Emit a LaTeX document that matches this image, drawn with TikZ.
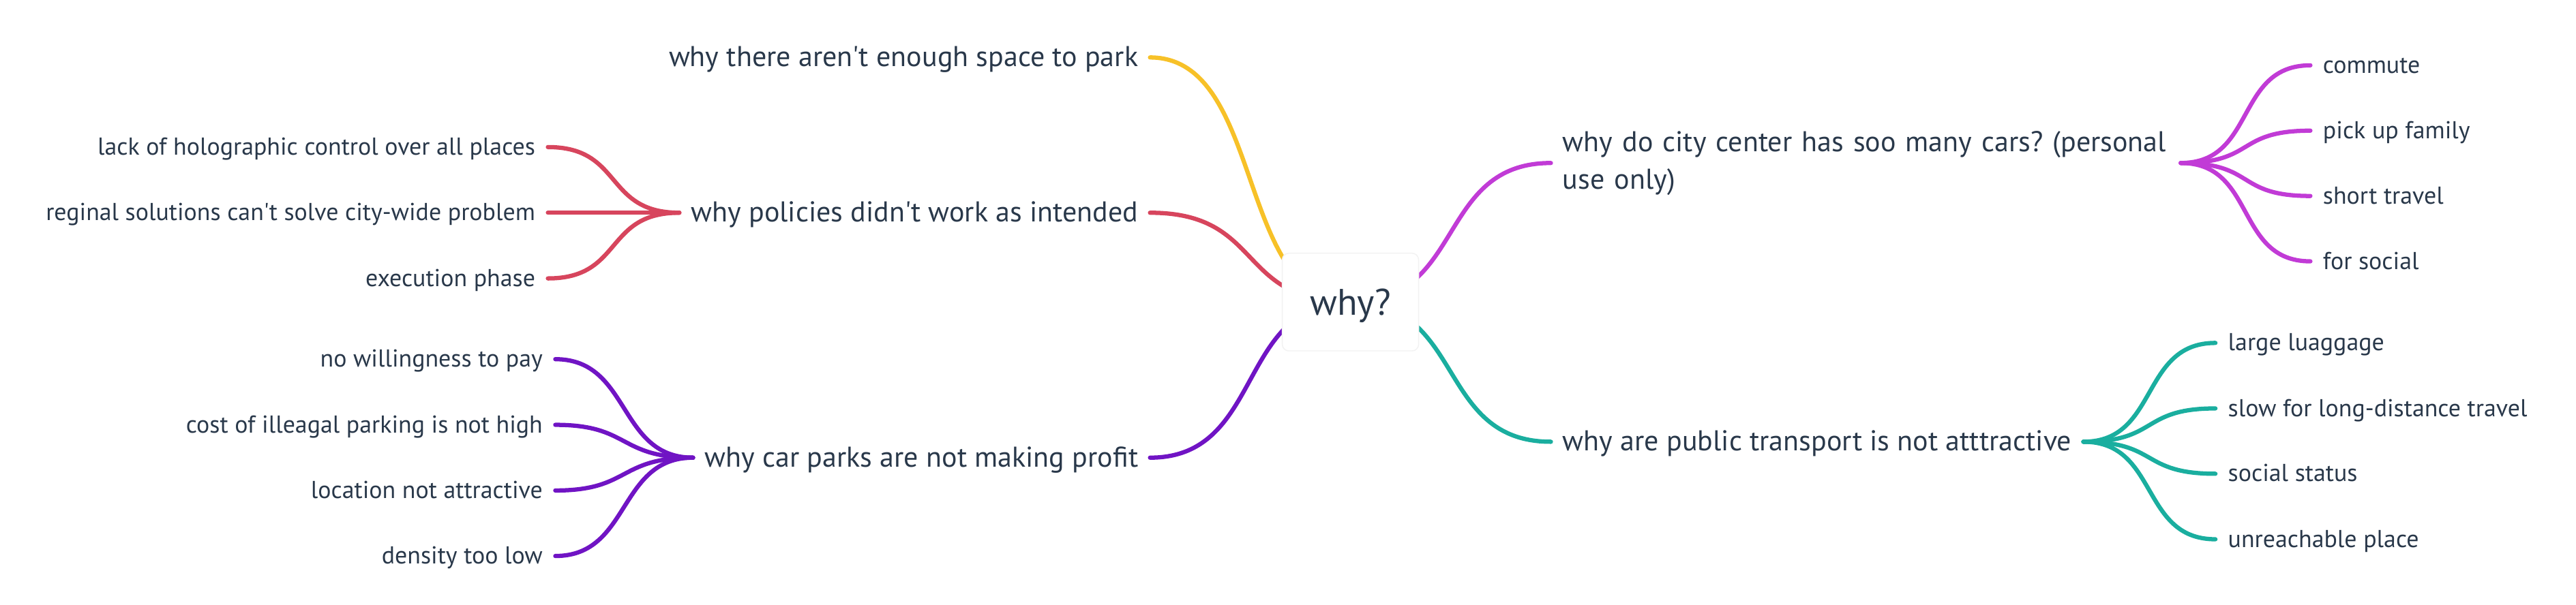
\documentclass[tikz,border=0pt]{standalone}
\usepackage{fontspec}
\setmainfont{PT Sans}[Ligatures=TeXOff]
\usetikzlibrary{backgrounds}
\definecolor{ink}{HTML}{29384A}
\definecolor{sunny}{HTML}{F7C128}
\definecolor{rosy}{HTML}{D7455D}
\definecolor{grape}{HTML}{7014C4}
\definecolor{orchid}{HTML}{C13BD6}
\definecolor{sea}{HTML}{1AAE9F}

\begin{document}
\begin{tikzpicture}[x=1pt, y=-1pt,
    root/.style ={rounded corners=4pt, fill=white, draw=black!5, line width=0.6pt, minimum width=83pt, minimum height=59.5pt, text=ink, text height=16pt, text depth=0pt, font=\fontsize{22.5}{26}\selectfont},
    branch/.style ={text=ink, inner xsep=7pt, inner ysep=1pt, font=\fontsize{17.45}{22.8}\selectfont\frenchspacing},
    branchline/.style ={branch, text height=13pt, text depth=2pt},
    leaf/.style ={text=ink, inner xsep=7.5pt, inner ysep=1pt, text height=11pt, text depth=1.4pt, font=\fontsize{14.9}{18}\selectfont},
    link/.style ={line width=2.6pt, line cap=round}]
   \useasboundingbox (0,0) rectangle (1568,368.55);

   \node[root] (why) at (822,184) {why?};

   \node[branchline, anchor=east] (park) at (700,35) {why there aren't enough space to park};
   \node[branchline, anchor=east] (policy) at (700,129.6) {why policies didn't work as intended};
   \node[branchline, anchor=east] (profit) at (700,278.8) {why car parks are not making profit};
   \node[branch, anchor=west, align=left, text width=369pt] (cars) at (944,99.3) {\mbox{why do city center has soo many cars? (personal}\\use only)};
   \node[branchline, anchor=west] (transit) at (944,269.1) {why are public transport is not atttractive};

   \node[leaf, anchor=east] (holo) at (333.5,89.6) {lack of holographic control over all places};
   \node[leaf, anchor=east] (region) at (333.5,129.6) {reginal solutions can't solve city-wide problem};
   \node[leaf, anchor=east] (exec) at (333.5,169.6) {execution phase};

   \node[leaf, anchor=east] (pay) at (338,218.8) {no willingness to pay};
   \node[leaf, anchor=east] (fine) at (338,258.8) {cost of illeagal parking is not high};
   \node[leaf, anchor=east] (spot) at (338,298.8) {location not attractive};
   \node[leaf, anchor=east] (dense) at (338,338.7) {density too low};

   \node[leaf, anchor=west] (commute) at (1406.3,39.8) {commute};
   \node[leaf, anchor=west] (family) at (1406.3,79.6) {pick up family};
   \node[leaf, anchor=west] (short) at (1406.3,119.4) {short travel};
   \node[leaf, anchor=west] (social) at (1406.3,159.2) {for social};

   \node[leaf, anchor=west] (luggage) at (1348.5,208.9) {large luaggage};
   \node[leaf, anchor=west] (slow) at (1348.5,248.8) {slow for long-distance travel};
   \node[leaf, anchor=west] (status) at (1348.5,288.6) {social status};
   \node[leaf, anchor=west] (reach) at (1348.5,328.5) {unreachable place};

   \begin{pgfonlayer}{background}
   \draw[link, sunny] (why.center) .. controls +(-70,0) and +(70,0) .. (park.east);
   \draw[link, rosy] (why.center) .. controls +(-70,0) and +(70,0) .. (policy.east);
   \draw[link, grape] (why.center) .. controls +(-70,0) and +(70,0) .. (profit.east);
   \draw[link, orchid] (why.center) .. controls +(70,0) and +(-70,0) .. (cars.west);
   \draw[link, sea] (why.center) .. controls +(70,0) and +(-70,0) .. (transit.west);

   \draw[link, rosy] (policy.west) .. controls +(-46,0) and +(46,0) .. (holo.east);
   \draw[link, rosy] (policy.west) .. controls +(-46,0) and +(46,0) .. (region.east);
   \draw[link, rosy] (policy.west) .. controls +(-46,0) and +(46,0) .. (exec.east);

   \draw[link, grape] (profit.west) .. controls +(-46,0) and +(46,0) .. (pay.east);
   \draw[link, grape] (profit.west) .. controls +(-46,0) and +(46,0) .. (fine.east);
   \draw[link, grape] (profit.west) .. controls +(-46,0) and +(46,0) .. (spot.east);
   \draw[link, grape] (profit.west) .. controls +(-46,0) and +(46,0) .. (dense.east);

   \draw[link, orchid] (cars.east) .. controls +(46,0) and +(-46,0) .. (commute.west);
   \draw[link, orchid] (cars.east) .. controls +(46,0) and +(-46,0) .. (family.west);
   \draw[link, orchid] (cars.east) .. controls +(46,0) and +(-46,0) .. (short.west);
   \draw[link, orchid] (cars.east) .. controls +(46,0) and +(-46,0) .. (social.west);

   \draw[link, sea] (transit.east) .. controls +(46,0) and +(-46,0) .. (luggage.west);
   \draw[link, sea] (transit.east) .. controls +(46,0) and +(-46,0) .. (slow.west);
   \draw[link, sea] (transit.east) .. controls +(46,0) and +(-46,0) .. (status.west);
   \draw[link, sea] (transit.east) .. controls +(46,0) and +(-46,0) .. (reach.west);
   \end{pgfonlayer}
 \end{tikzpicture}
\end{document}
